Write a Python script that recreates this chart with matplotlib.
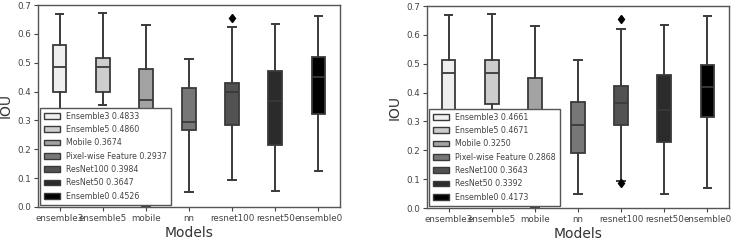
import matplotlib
matplotlib.use("Agg")
import matplotlib.pyplot as plt
from matplotlib.patches import Patch

# categories and colours
models = ['ensemble3', 'ensemble5', 'mobile', 'nn', 'resnet100', 'resnet50', 'ensemble0']
names = ['Ensemble3', 'Ensemble5', 'Mobile', 'Pixel-wise Feature', 'ResNet100', 'ResNet50', 'Ensemble0']
colors = ['#efefef', '#cdcdcd', '#a3a3a3', '#777777', '#525252', '#2b2b2b', '#000000']

# left panel: box statistics
left_mean = [0.4833, 0.4860, 0.3674, 0.2937, 0.3984, 0.3647, 0.4526]
left_whislo = [0.15, 0.352, 0.0, 0.052, 0.093, 0.056, 0.125]
left_q1 = [0.398, 0.398, 0.28, 0.266, 0.285, 0.214, 0.321]
left_med = [0.484, 0.486, 0.370, 0.294, 0.399, 0.367, 0.45]
left_q3 = [0.561, 0.516, 0.477, 0.413, 0.428, 0.471, 0.519]
left_whishi = [0.669, 0.671, 0.630, 0.514, 0.625, 0.634, 0.663]
left_fliers = [[], [], [], [], [0.655], [], []]

# right panel
right_mean = [0.4661, 0.4671, 0.3250, 0.2868, 0.3643, 0.3392, 0.4173]
right_whislo = [0.12, 0.25, 0.0, 0.047, 0.095, 0.047, 0.069]
right_q1 = [0.335, 0.361, 0.25, 0.189, 0.289, 0.230, 0.315]
right_med = [0.468, 0.468, 0.33, 0.288, 0.364, 0.341, 0.42]
right_q3 = [0.514, 0.512, 0.449, 0.366, 0.424, 0.460, 0.497]
right_whishi = [0.669, 0.671, 0.629, 0.512, 0.622, 0.635, 0.667]
right_fliers = [[], [], [], [], [0.655, 0.085], [], []]

edge = '#3a3a3a'


def draw(ax, mean, whislo, q1, med, q3, whishi, fliers):
    stats = []
    for i in range(len(models)):
        stats.append(dict(whislo=whislo[i], q1=q1[i], med=med[i], q3=q3[i],
                          whishi=whishi[i], fliers=fliers[i]))
    bp = ax.bxp(stats, positions=range(len(models)), widths=0.32, patch_artist=True,
                showfliers=True,
                boxprops=dict(edgecolor=edge, linewidth=1.3),
                medianprops=dict(color=edge, linewidth=1.3),
                whiskerprops=dict(color=edge, linewidth=1.4),
                capprops=dict(color=edge, linewidth=1.4),
                capwidths=0.17,
                flierprops=dict(marker='d', markerfacecolor='black', markeredgecolor='black',
                                markersize=4.5))
    for patch, c in zip(bp['boxes'], colors):
        patch.set_facecolor(c)
    ax.set_ylim(0, 0.7)
    ax.set_xlim(-0.5, len(models) - 0.5)
    ax.set_xticks(range(len(models)))
    ax.set_xticklabels(models)
    ax.set_yticks([0.0, 0.1, 0.2, 0.3, 0.4, 0.5, 0.6, 0.7])
    ax.tick_params(labelsize=6.3, colors='#444444', length=3, direction='out',
                   top=False, right=False, pad=2)
    for s in ax.spines.values():
        s.set_color('#555555')
        s.set_linewidth(1.0)
    ax.set_xlabel('Models', fontsize=10, color='#333333', labelpad=2)
    ax.set_ylabel('IOU', fontsize=10, color='#333333', labelpad=3)
    handles = [Patch(facecolor=colors[i], edgecolor=edge, label=f'{names[i]} {mean[i]:.4f}')
               for i in range(len(models))]
    leg = ax.legend(handles=handles, loc='lower left', fontsize=5.7, frameon=True,
                    fancybox=False, framealpha=1, borderpad=0.5, labelspacing=0.55,
                    handlelength=2.0, handleheight=0.75, handletextpad=0.75,
                    borderaxespad=0.3, bbox_to_anchor=(0.0, 0.0))
    leg.get_frame().set_edgecolor('#555555')
    for t in leg.get_texts():
        t.set_color('#444444')


fig = plt.figure(figsize=(7.33, 2.4), dpi=100)
ax1 = fig.add_axes([38 / 733, 1 - 207 / 240, 302 / 733, 202 / 240])
ax2 = fig.add_axes([427 / 733, 1 - 208 / 240, 302 / 733, 202 / 240])
draw(ax1, left_mean, left_whislo, left_q1, left_med, left_q3, left_whishi, left_fliers)
draw(ax2, right_mean, right_whislo, right_q1, right_med, right_q3, right_whishi, right_fliers)
fig.savefig('out.png', dpi=100)
